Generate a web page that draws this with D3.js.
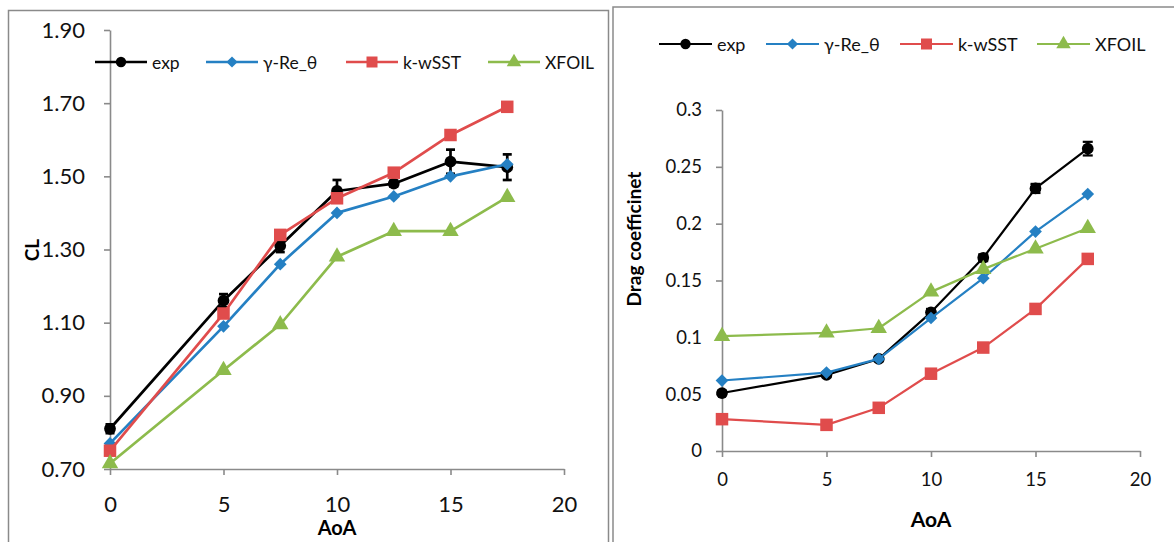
<!DOCTYPE html>
<html>
<head>
<meta charset="utf-8">
<script src="https://cdn.jsdelivr.net/npm/d3@7"></script>
<style>
  body { margin: 0; background: #fff; }
  svg { display: block; font-family: Lato, "Open Sans", sans-serif; }
</style>
</head>
<body>
<svg id="chart" width="1174" height="542"></svg>
<script>
// angle of attack (shared by both plots)
const aoa = [0, 5, 7.5, 10, 12.5, 15, 17.5];
const seriesNames = ["exp", "γ-Re_θ", "k-wSST", "XFOIL"];

// lift coefficient
const clExp    = [0.81, 1.16, 1.31, 1.46, 1.48, 1.54, 1.525];
const clExpErr = [0.012, 0.018, 0.017, 0.03, 0.008, 0.033, 0.035];
const clGamma  = [0.77, 1.09, 1.26, 1.40, 1.445, 1.50, 1.533];
const clSST    = [0.75, 1.125, 1.34, 1.44, 1.51, 1.613, 1.69];
const clXfoil  = [0.715, 0.97, 1.095, 1.28, 1.35, 1.35, 1.443];

// drag coefficient
const cdExp    = [0.051, 0.067, 0.081, 0.122, 0.170, 0.231, 0.266];
const cdExpErr = [0.002, 0.002, 0.002, 0.003, 0.003, 0.004, 0.006];
const cdGamma  = [0.062, 0.069, 0.081, 0.117, 0.152, 0.193, 0.226];
const cdSST    = [0.028, 0.023, 0.038, 0.068, 0.091, 0.125, 0.169];
const cdXfoil  = [0.101, 0.104, 0.108, 0.140, 0.160, 0.178, 0.196];

const aoaTicks = [0, 5, 10, 15, 20];
const clTicks  = [0.70, 0.90, 1.10, 1.30, 1.50, 1.70, 1.90];
const cdTicks  = [0, 0.05, 0.1, 0.15, 0.2, 0.25, 0.3];

const colors = ["#000000", "#2580c3", "#e04c4c", "#8dbb4c"];
const axisColor = "#8a8a8a";

const svg = d3.select("#chart");

// panel frames
svg.append("rect").attr("x", 8.5).attr("y", 10.5).attr("width", 600).attr("height", 560)
  .attr("fill", "none").attr("stroke", axisColor).attr("stroke-width", 1.5);
svg.append("rect").attr("x", 613).attr("y", 7).attr("width", 600).attr("height", 560)
  .attr("fill", "none").attr("stroke", axisColor).attr("stroke-width", 1.5);

function marker(g, i, size) {
  // circle, diamond, square, triangle
  if (i === 0) {
    return g.append("circle").attr("r", size * 0.47);
  } else if (i === 1) {
    const s = size * 0.72;
    return g.append("rect").attr("x", -s / 2).attr("y", -s / 2)
      .attr("width", s).attr("height", s).attr("transform", "rotate(45)");
  } else if (i === 2) {
    return g.append("rect").attr("x", -size / 2).attr("y", -size / 2)
      .attr("width", size).attr("height", size);
  }
  return g.append("path").attr("d", d3.symbol(d3.symbolTriangle, size * size * 0.75)());
}

function drawPanel(cfg) {
  const x = d3.scaleLinear().domain([0, 20]).range(cfg.xRange);
  const y = d3.scaleLinear().domain(cfg.yDomain).range(cfg.yRange);

  // axes
  const yAxis = svg.append("g")
    .attr("transform", `translate(${cfg.xRange[0]},0)`)
    .call(d3.axisLeft(y).tickValues(cfg.yTicks).tickFormat(cfg.yFormat)
      .tickSize(6).tickSizeOuter(0).tickPadding(cfg.yPad));
  const xAxis = svg.append("g")
    .attr("transform", `translate(0,${cfg.yRange[0]})`)
    .call(d3.axisBottom(x).tickValues(aoaTicks)
      .tickSize(6).tickSizeOuter(0).tickPadding(cfg.xPad));
  [xAxis, yAxis].forEach(a => {
    a.select(".domain").attr("stroke", axisColor).attr("stroke-width", 1.6);
    a.selectAll(".tick line").attr("stroke", axisColor).attr("stroke-width", 1.6);
    a.selectAll(".tick text").attr("fill", "#111")
      .style("font-size", cfg.tickFont + "px").style("font-family", "Lato");
  });

  // axis titles
  svg.append("text")
    .attr("x", (cfg.xRange[0] + cfg.xRange[1]) / 2).attr("y", cfg.xTitleY)
    .attr("text-anchor", "middle").attr("dominant-baseline", "central")
    .style("font-weight", "bold").style("font-size", cfg.xTitleFont + "px")
    .text("AoA");
  svg.append("text")
    .attr("transform", `translate(${cfg.yTitleX},${cfg.yTitleY}) rotate(-90)`)
    .attr("text-anchor", "middle").attr("dominant-baseline", "central")
    .style("font-weight", "bold").style("font-size", cfg.yTitleFont + "px")
    .text(cfg.yTitle);

  const line = d3.line().x((d, i) => x(aoa[i])).y(d => y(d));

  cfg.series.forEach((vals, s) => {
    const g = svg.append("g");
    g.append("path").datum(vals).attr("d", line)
      .attr("fill", "none").attr("stroke", colors[s])
      .attr("stroke-width", cfg.lineW).attr("stroke-linejoin", "round");

    if (s === 0) {
      // error bars on experiment
      vals.forEach((v, i) => {
        const cx = x(aoa[i]), y0 = y(v - cfg.err[i]), y1 = y(v + cfg.err[i]);
        g.append("line").attr("x1", cx).attr("x2", cx).attr("y1", y0).attr("y2", y1)
          .attr("stroke", "#000").attr("stroke-width", cfg.lineW);
        [y0, y1].forEach(yy => g.append("line")
          .attr("x1", cx - cfg.cap).attr("x2", cx + cfg.cap).attr("y1", yy).attr("y2", yy)
          .attr("stroke", "#000").attr("stroke-width", cfg.lineW));
      });
    }

    vals.forEach((v, i) => {
      const m = g.append("g").attr("transform", `translate(${x(aoa[i])},${y(v)})`);
      marker(m, s, cfg.markSize).attr("fill", colors[s]);
    });
  });

  // legend
  const leg = svg.append("g").attr("transform", `translate(0,${cfg.legY})`);
  seriesNames.forEach((name, i) => {
    const x0 = cfg.legX[i];
    leg.append("line").attr("x1", x0).attr("x2", x0 + cfg.legLen)
      .attr("stroke", colors[i]).attr("stroke-width", cfg.lineW);
    const m = leg.append("g").attr("transform", `translate(${x0 + cfg.legLen / 2},0)`);
    marker(m, i, cfg.legMark).attr("fill", colors[i]);
    leg.append("text").attr("x", x0 + cfg.legLen + 5).attr("y", 0)
      .attr("dominant-baseline", "central")
      .style("font-size", cfg.legFont + "px").attr("fill", "#111")
      .text(name);
  });
}

drawPanel({
  xRange: [110, 564], yRange: [469, 30], yDomain: [0.7, 1.9],
  yTicks: clTicks, yFormat: d3.format(".2f"), yPad: 19, xPad: 21,
  tickFont: 22, xTitleY: 527, xTitleFont: 20,
  yTitle: "CL", yTitleX: 31, yTitleY: 250, yTitleFont: 19,
  series: [clExp, clGamma, clSST, clXfoil], err: clExpErr, cap: 4.5,
  lineW: 2.7, markSize: 12.5,
  legY: 62, legX: [95, 206, 346, 488], legLen: 52, legMark: 11, legFont: 17.5
});

drawPanel({
  xRange: [722, 1140], yRange: [451, 110], yDomain: [0, 0.3],
  yTicks: cdTicks, yFormat: d => String(+d.toFixed(2)), yPad: 14, xPad: 16,
  tickFont: 18.5, xTitleY: 518, xTitleFont: 21,
  yTitle: "Drag coefficinet", yTitleX: 633, yTitleY: 239, yTitleFont: 19,
  series: [cdExp, cdGamma, cdSST, cdXfoil], err: cdExpErr, cap: 5,
  lineW: 2.2, markSize: 12.5,
  legY: 44, legX: [659, 766, 900, 1037], legLen: 53, legMark: 11, legFont: 18
});
</script>
</body>
</html>
